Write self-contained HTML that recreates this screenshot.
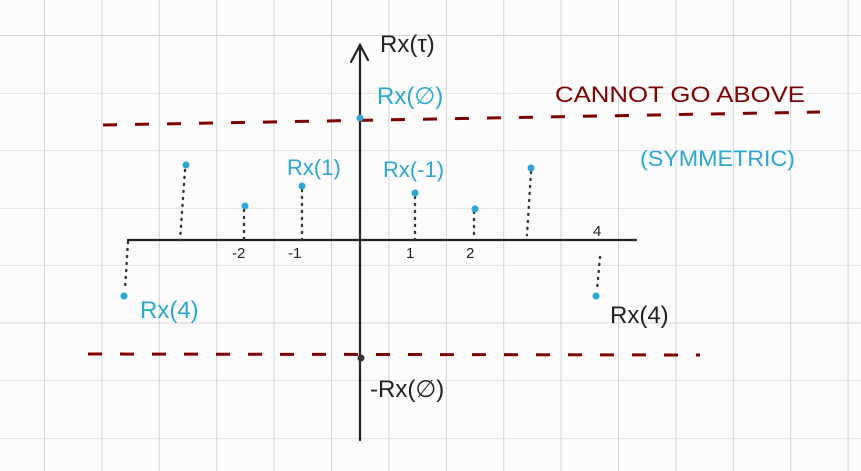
<!DOCTYPE html>
<html><head><style>body{margin:0;background:#fcfcfc}svg{display:block}</style></head>
<body>
<svg width="861" height="471" viewBox="0 0 861 471" xmlns="http://www.w3.org/2000/svg">
<defs>
<pattern id="g" x="44" y="35" width="57.4" height="57.5" patternUnits="userSpaceOnUse">
<path d="M0 0V57.5M0 0H57.4" stroke="#d4d4d4" stroke-width="2" fill="none"/>
</pattern>
</defs>
<rect width="861" height="471" fill="#fcfcfc"/>
<rect width="861" height="471" fill="url(#g)"/>
<g stroke="#222" stroke-width="2.2" fill="none" stroke-linecap="round">
<path d="M360 440V46M351 62L360 45L368 60"/>
<path d="M128 240H636"/>
</g>
<g stroke="#800000" stroke-width="3" stroke-dasharray="14 18" fill="none">
<path d="M103 125L820 112"/>
<path d="M88 354L700 355"/>
</g>
<g stroke="#333" stroke-width="2.4" stroke-dasharray="1 6" stroke-linecap="round" fill="none">
<path d="M185 170L180 240"/><path d="M244 210V240"/><path d="M302 190V240"/>
<path d="M415 197V240"/><path d="M474 212V240"/><path d="M531 172L527 235"/>
<path d="M128 242L125 290"/><path d="M600 257L597 290"/>
</g>
<g fill="#2aa7d6">
<circle cx="186" cy="165" r="3.5"/><circle cx="245" cy="206" r="3.5"/><circle cx="302" cy="186" r="3.5"/>
<circle cx="415" cy="193" r="3.5"/><circle cx="475" cy="209" r="3.5"/><circle cx="531" cy="168" r="3.5"/>
<circle cx="124" cy="296" r="3.5"/><circle cx="596" cy="296" r="3.5"/><circle cx="360" cy="118" r="3.5"/>
</g>
<circle cx="361" cy="358" r="3.5" fill="#333"/>
<g font-family="Liberation Sans, sans-serif">
<text x="380" y="52" font-size="24" fill="#222">Rx(τ)</text>
<text x="377" y="104" font-size="24" fill="#2aa7d6">Rx(∅)</text>
<text x="287" y="175" font-size="22" fill="#2aa7d6">Rx(1)</text>
<text x="383" y="177" font-size="22" fill="#2aa7d6">Rx(-1)</text>
<text x="140" y="318" font-size="24" fill="#2aa7d6">Rx(4)</text>
<text x="610" y="323" font-size="24" fill="#222">Rx(4)</text>
<text x="370" y="397" font-size="24" fill="#222">-Rx(∅)</text>
<text x="555" y="102" font-size="22" fill="#800000" textLength="250" lengthAdjust="spacingAndGlyphs">CANNOT GO ABOVE</text>
<text x="640" y="166" font-size="22" fill="#2aa7d6" textLength="155" lengthAdjust="spacingAndGlyphs">(SYMMETRIC)</text>
<g font-size="15" fill="#222">
<text x="232" y="258">-2</text><text x="288" y="258">-1</text><text x="406" y="258">1</text>
<text x="466" y="258">2</text><text x="593" y="236">4</text>
</g>
</g>
</svg>
</body></html>
